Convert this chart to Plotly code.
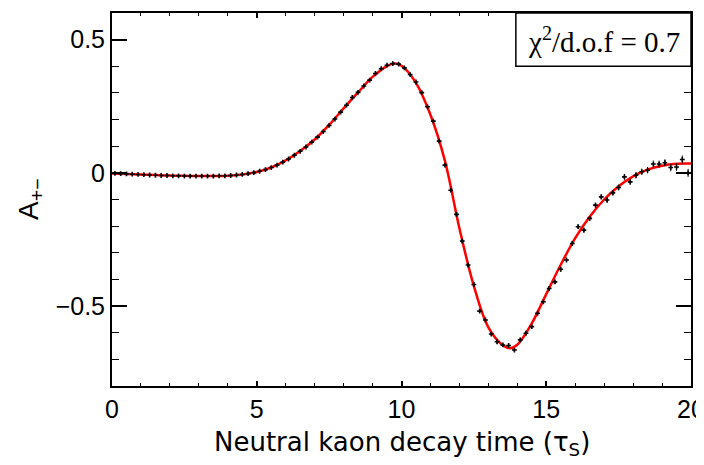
import plotly.graph_objects as go

# Bin centres of the measured asymmetry (units of tau_S)
decay_time = [0.1, 0.3, 0.5, 0.7, 0.9, 1.1, 1.3, 1.5, 1.7, 1.9,
              2.1, 2.3, 2.5, 2.7, 2.9, 3.1, 3.3, 3.5, 3.7, 3.9,
              4.1, 4.3, 4.5, 4.7, 4.9, 5.1, 5.3, 5.5, 5.7, 5.9,
              6.1, 6.3, 6.5, 6.7, 6.9, 7.1, 7.3, 7.5, 7.7, 7.9,
              8.1, 8.3, 8.5, 8.7, 8.9, 9.1, 9.3, 9.5, 9.7, 9.9,
              10.1, 10.3, 10.5, 10.7, 10.9, 11.1, 11.3, 11.5, 11.7, 11.9,
              12.1, 12.3, 12.5, 12.7, 12.9, 13.1, 13.3, 13.5, 13.7, 13.9,
              14.1, 14.3, 14.5, 14.7, 14.9, 15.1, 15.3, 15.5, 15.7, 15.9,
              16.1, 16.3, 16.5, 16.7, 16.9, 17.1, 17.3, 17.5, 17.7, 17.9,
              18.1, 18.3, 18.5, 18.7, 18.9, 19.1, 19.3, 19.5, 19.7, 19.9]

asymmetry = [-0.002, -0.003, -0.004, -0.005, -0.006, -0.007, -0.008, -0.009, -0.010, -0.010,
             -0.011, -0.011, -0.012, -0.012, -0.012, -0.012, -0.012, -0.012, -0.011, -0.011,
             -0.010, -0.008, -0.006, -0.003, 0.001, 0.006, 0.012, 0.020, 0.029, 0.040,
             0.052, 0.066, 0.081, 0.097, 0.115, 0.134, 0.155, 0.178, 0.202, 0.228,
             0.254, 0.283, 0.302, 0.326, 0.348, 0.373, 0.391, 0.404, 0.410, 0.408,
             0.394, 0.369, 0.341, 0.301, 0.248, 0.194, 0.119, 0.029, -0.065, -0.156,
             -0.256, -0.346, -0.419, -0.519, -0.552, -0.605, -0.634, -0.646, -0.648, -0.665,
             -0.627, -0.602, -0.577, -0.527, -0.484, -0.434, -0.409, -0.362, -0.327, -0.265,
             -0.202, -0.215, -0.171, -0.121, -0.090, -0.102, -0.075, -0.055, -0.015, -0.034,
             -0.009, 0.004, 0.010, 0.033, 0.033, 0.038, 0.020, 0.022, 0.050, 0.000]

asym_error = [0.002, 0.002, 0.002, 0.002, 0.002, 0.002, 0.002, 0.002, 0.002, 0.002,
              0.002, 0.002, 0.002, 0.002, 0.002, 0.002, 0.002, 0.002, 0.002, 0.002,
              0.002, 0.002, 0.002, 0.002, 0.002, 0.003, 0.003, 0.003, 0.003, 0.003,
              0.003, 0.003, 0.003, 0.003, 0.003, 0.003, 0.003, 0.003, 0.003, 0.003,
              0.004, 0.004, 0.004, 0.004, 0.004, 0.004, 0.004, 0.004, 0.004, 0.004,
              0.004, 0.004, 0.004, 0.004, 0.004, 0.005, 0.005, 0.005, 0.005, 0.005,
              0.005, 0.005, 0.005, 0.005, 0.006, 0.006, 0.006, 0.006, 0.006, 0.006,
              0.006, 0.006, 0.007, 0.007, 0.007, 0.007, 0.007, 0.008, 0.008, 0.008,
              0.008, 0.009, 0.009, 0.009, 0.010, 0.010, 0.010, 0.011, 0.011, 0.011,
              0.012, 0.012, 0.012, 0.013, 0.013, 0.013, 0.014, 0.014, 0.015, 0.015]

# Fitted curve
fit_time = [0.0, 0.5, 1.0, 1.5, 2.0, 2.5, 3.0, 3.5, 4.0, 4.5,
            5.0, 5.5, 6.0, 6.5, 7.0, 7.5, 8.0, 8.5, 9.0, 9.5,
            9.75, 10.0, 10.5, 11.0, 11.5, 12.0, 12.5, 13.0, 13.5, 13.75,
            14.0, 14.5, 15.0, 15.5, 16.0, 16.5, 17.0, 17.5, 18.0, 18.5,
            19.0, 19.5, 20.0]
fit_value = [-0.002, -0.004, -0.006, -0.008, -0.010, -0.011, -0.012, -0.012, -0.011, -0.006,
             0.003, 0.020, 0.047, 0.082, 0.125, 0.180, 0.242, 0.302, 0.360, 0.401,
             0.410, 0.402, 0.338, 0.218, 0.045, -0.208, -0.425, -0.580, -0.647, -0.658,
             -0.645, -0.565, -0.455, -0.345, -0.245, -0.165, -0.100, -0.050, -0.013, 0.012,
             0.027, 0.034, 0.035]

x_ticks = [0, 5, 10, 15, 20]
y_ticks = [-0.5, 0, 0.5]
y_tick_text = ["\u22120.5", "0", "0.5"]

SANS = "Liberation Sans, Arial, sans-serif"

fig = go.Figure()
fig.add_trace(go.Scatter(
    x=fit_time, y=fit_value, mode="lines",
    line=dict(color="#ff0000", width=2.5, shape="spline", smoothing=1.0),
    hoverinfo="skip", showlegend=False))
fig.add_trace(go.Scatter(
    x=decay_time, y=asymmetry, mode="markers",
    marker=dict(symbol="cross", size=4, color="black", line=dict(width=0)),
    error_y=dict(type="data", array=asym_error, visible=True, color="black", thickness=1, width=0),
    showlegend=False))

tick_font = dict(family=SANS, size=25, color="black")

fig.update_layout(
    width=704, height=465,
    margin=dict(l=104, r=21, t=5, b=87),
    paper_bgcolor="white", plot_bgcolor="white",
    font=tick_font,
    xaxis=dict(
        range=[0, 20], tickvals=x_ticks, ticks="inside", ticklen=5, tickwidth=1.5,
        tickcolor="black", showline=True, linecolor="black", linewidth=2, mirror="ticks",
        showgrid=False, zeroline=False, tickfont=tick_font, automargin=False,
        ticklabeloverflow="allow",
        minor=dict(dtick=1, ticks="inside", ticklen=3, tickwidth=1.2, tickcolor="black", showgrid=False),
    ),
    yaxis=dict(
        range=[-0.8, 0.6], tickvals=y_ticks, ticktext=y_tick_text, ticks="inside", ticklen=15,
        tickwidth=1.5, tickcolor="black", showline=True, linecolor="black", linewidth=2,
        mirror="ticks", showgrid=False, zeroline=False, tickfont=tick_font, automargin=False,
        ticklabeloverflow="allow",
        minor=dict(dtick=0.1, ticks="inside", ticklen=7, tickwidth=1.2, tickcolor="black", showgrid=False),
    ),
)

# Axis titles
fig.add_annotation(xref="paper", yref="paper", x=0.5, y=0, xanchor="center", yanchor="top",
                   yshift=-39, showarrow=False,
                   text="Neutral kaon decay time (\u03c4<sub>S</sub>)",
                   font=dict(family="DejaVu Sans, Liberation Sans, sans-serif", size=26, color="black"))
fig.add_annotation(xref="paper", yref="paper", x=0, y=0.5, xanchor="right", yanchor="middle",
                   xshift=-62, showarrow=False, textangle=-90,
                   text="A<sub>+\u2212</sub>",
                   font=dict(family=SANS, size=28, color="black"))

# chi^2 box
fig.add_shape(type="rect", xref="x", yref="y", x0=13.95, x1=20, y0=0.4, y1=0.6,
              line=dict(color="black", width=1.5), fillcolor="white", layer="above")
fig.add_annotation(xref="x", yref="y", x=16.98, y=0.5,
                   text="\u03c7<sup>2</sup>/d.o.f = 0.7", showarrow=False,
                   font=dict(family="Liberation Serif, Times New Roman, serif", size=29, color="black"))

fig.write_html("out.html")
